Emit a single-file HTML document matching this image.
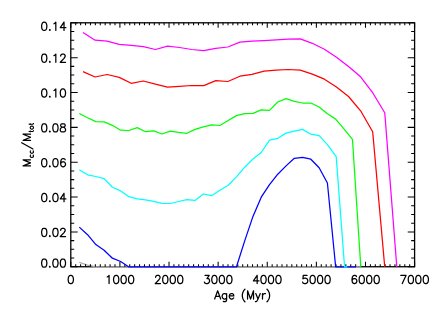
<!DOCTYPE html>
<html><head><meta charset="utf-8"><title>Mcc/Mtot vs Age</title>
<style>
html,body{margin:0;padding:0;background:#fff;font-family:"Liberation Sans",sans-serif;}
svg{display:block}
</style></head>
<body>
<svg width="436" height="312" viewBox="0 0 436 312">
<g fill="none" stroke="#000" stroke-linecap="butt" stroke-linejoin="miter">
<rect x="70.80" y="22.80" width="343.80" height="243.95" stroke-width="1.30"/>
<polyline stroke="#b0b0b0" stroke-width="1.35" stroke-linejoin="round" points="79.30,262.40 87.50,265.20 96.50,266.90 360.30,266.90"/>
<path d="M70.80 266.75 V261.87 M70.80 22.80 V27.68 M75.71 266.75 V264.31 M75.71 22.80 V25.24 M80.62 266.75 V264.31 M80.62 22.80 V25.24 M85.53 266.75 V264.31 M85.53 22.80 V25.24 M90.45 266.75 V264.31 M90.45 22.80 V25.24 M95.36 266.75 V264.31 M95.36 22.80 V25.24 M100.27 266.75 V264.31 M100.27 22.80 V25.24 M105.18 266.75 V264.31 M105.18 22.80 V25.24 M110.09 266.75 V264.31 M110.09 22.80 V25.24 M115.00 266.75 V264.31 M115.00 22.80 V25.24 M119.91 266.75 V261.87 M119.91 22.80 V27.68 M124.83 266.75 V264.31 M124.83 22.80 V25.24 M129.74 266.75 V264.31 M129.74 22.80 V25.24 M134.65 266.75 V264.31 M134.65 22.80 V25.24 M139.56 266.75 V264.31 M139.56 22.80 V25.24 M144.47 266.75 V264.31 M144.47 22.80 V25.24 M149.38 266.75 V264.31 M149.38 22.80 V25.24 M154.29 266.75 V264.31 M154.29 22.80 V25.24 M159.21 266.75 V264.31 M159.21 22.80 V25.24 M164.12 266.75 V264.31 M164.12 22.80 V25.24 M169.03 266.75 V261.87 M169.03 22.80 V27.68 M173.94 266.75 V264.31 M173.94 22.80 V25.24 M178.85 266.75 V264.31 M178.85 22.80 V25.24 M183.76 266.75 V264.31 M183.76 22.80 V25.24 M188.67 266.75 V264.31 M188.67 22.80 V25.24 M193.59 266.75 V264.31 M193.59 22.80 V25.24 M198.50 266.75 V264.31 M198.50 22.80 V25.24 M203.41 266.75 V264.31 M203.41 22.80 V25.24 M208.32 266.75 V264.31 M208.32 22.80 V25.24 M213.23 266.75 V264.31 M213.23 22.80 V25.24 M218.14 266.75 V261.87 M218.14 22.80 V27.68 M223.05 266.75 V264.31 M223.05 22.80 V25.24 M227.97 266.75 V264.31 M227.97 22.80 V25.24 M232.88 266.75 V264.31 M232.88 22.80 V25.24 M237.79 266.75 V264.31 M237.79 22.80 V25.24 M242.70 266.75 V264.31 M242.70 22.80 V25.24 M247.61 266.75 V264.31 M247.61 22.80 V25.24 M252.52 266.75 V264.31 M252.52 22.80 V25.24 M257.43 266.75 V264.31 M257.43 22.80 V25.24 M262.35 266.75 V264.31 M262.35 22.80 V25.24 M267.26 266.75 V261.87 M267.26 22.80 V27.68 M272.17 266.75 V264.31 M272.17 22.80 V25.24 M277.08 266.75 V264.31 M277.08 22.80 V25.24 M281.99 266.75 V264.31 M281.99 22.80 V25.24 M286.90 266.75 V264.31 M286.90 22.80 V25.24 M291.81 266.75 V264.31 M291.81 22.80 V25.24 M296.73 266.75 V264.31 M296.73 22.80 V25.24 M301.64 266.75 V264.31 M301.64 22.80 V25.24 M306.55 266.75 V264.31 M306.55 22.80 V25.24 M311.46 266.75 V264.31 M311.46 22.80 V25.24 M316.37 266.75 V261.87 M316.37 22.80 V27.68 M321.28 266.75 V264.31 M321.28 22.80 V25.24 M326.19 266.75 V264.31 M326.19 22.80 V25.24 M331.11 266.75 V264.31 M331.11 22.80 V25.24 M336.02 266.75 V264.31 M336.02 22.80 V25.24 M340.93 266.75 V264.31 M340.93 22.80 V25.24 M345.84 266.75 V264.31 M345.84 22.80 V25.24 M350.75 266.75 V264.31 M350.75 22.80 V25.24 M355.66 266.75 V264.31 M355.66 22.80 V25.24 M360.57 266.75 V264.31 M360.57 22.80 V25.24 M365.49 266.75 V261.87 M365.49 22.80 V27.68 M370.40 266.75 V264.31 M370.40 22.80 V25.24 M375.31 266.75 V264.31 M375.31 22.80 V25.24 M380.22 266.75 V264.31 M380.22 22.80 V25.24 M385.13 266.75 V264.31 M385.13 22.80 V25.24 M390.04 266.75 V264.31 M390.04 22.80 V25.24 M394.95 266.75 V264.31 M394.95 22.80 V25.24 M399.87 266.75 V264.31 M399.87 22.80 V25.24 M404.78 266.75 V264.31 M404.78 22.80 V25.24 M409.69 266.75 V264.31 M409.69 22.80 V25.24 M414.60 266.75 V261.87 M414.60 22.80 V27.68 M70.80 266.75 H77.68 M414.60 266.75 H407.72 M70.80 258.04 H74.24 M414.60 258.04 H411.16 M70.80 249.32 H74.24 M414.60 249.32 H411.16 M70.80 240.61 H74.24 M414.60 240.61 H411.16 M70.80 231.90 H77.68 M414.60 231.90 H407.72 M70.80 223.19 H74.24 M414.60 223.19 H411.16 M70.80 214.48 H74.24 M414.60 214.48 H411.16 M70.80 205.76 H74.24 M414.60 205.76 H411.16 M70.80 197.05 H77.68 M414.60 197.05 H407.72 M70.80 188.34 H74.24 M414.60 188.34 H411.16 M70.80 179.62 H74.24 M414.60 179.62 H411.16 M70.80 170.91 H74.24 M414.60 170.91 H411.16 M70.80 162.20 H77.68 M414.60 162.20 H407.72 M70.80 153.49 H74.24 M414.60 153.49 H411.16 M70.80 144.78 H74.24 M414.60 144.78 H411.16 M70.80 136.06 H74.24 M414.60 136.06 H411.16 M70.80 127.35 H77.68 M414.60 127.35 H407.72 M70.80 118.64 H74.24 M414.60 118.64 H411.16 M70.80 109.93 H74.24 M414.60 109.93 H411.16 M70.80 101.21 H74.24 M414.60 101.21 H411.16 M70.80 92.50 H77.68 M414.60 92.50 H407.72 M70.80 83.79 H74.24 M414.60 83.79 H411.16 M70.80 75.08 H74.24 M414.60 75.08 H411.16 M70.80 66.36 H74.24 M414.60 66.36 H411.16 M70.80 57.65 H77.68 M414.60 57.65 H407.72 M70.80 48.94 H74.24 M414.60 48.94 H411.16 M70.80 40.23 H74.24 M414.60 40.23 H411.16 M70.80 31.51 H74.24 M414.60 31.51 H411.16 M70.80 22.80 H77.68 M414.60 22.80 H407.72" stroke-width="1.05"/>
</g>
<polyline fill="none" stroke="#0000ff" stroke-width="1.25" stroke-linejoin="round" stroke-linecap="butt" points="79.30,227.10 87.57,234.70 95.84,244.60 104.11,250.20 112.38,258.20 120.65,261.50 128.92,266.95 236.40,266.95 244.70,240.90 252.97,216.40 261.24,197.20 269.51,184.60 277.78,174.20 286.05,165.90 294.32,158.30 302.59,157.40 310.86,159.20 319.13,167.80 327.40,183.00 335.67,266.95 356.00,266.95"/>
<polyline fill="none" stroke="#00ffff" stroke-width="1.25" stroke-linejoin="round" stroke-linecap="butt" points="79.30,169.70 87.57,174.80 95.84,176.50 104.11,178.60 112.38,187.20 120.65,190.90 128.92,196.70 137.19,198.80 145.46,199.80 153.73,201.30 162.00,203.30 170.27,203.50 178.54,201.50 186.81,199.60 195.08,200.40 203.35,194.00 211.62,195.70 219.89,190.30 228.16,185.20 236.43,176.90 244.70,167.20 252.97,159.00 261.24,152.50 269.51,140.20 277.78,138.30 286.05,133.10 294.32,131.10 302.59,129.40 310.86,134.20 319.13,135.60 327.40,144.60 336.20,156.60 344.60,266.95 347.40,266.95"/>
<polyline fill="none" stroke="#00ff00" stroke-width="1.25" stroke-linejoin="round" stroke-linecap="butt" points="79.30,113.50 87.57,117.70 95.84,121.60 104.11,121.80 112.38,125.30 120.65,130.20 128.92,130.50 137.19,127.60 145.46,131.70 153.73,130.90 162.00,134.00 170.27,131.10 178.54,132.30 186.81,133.30 195.08,129.40 203.35,126.90 211.62,124.90 219.89,125.50 228.16,120.50 236.43,115.60 244.70,113.70 252.97,113.30 261.24,109.80 269.51,110.40 277.78,102.00 286.05,98.70 294.32,101.30 302.59,103.00 310.86,103.00 319.13,107.00 327.40,113.80 335.67,119.10 343.94,128.80 352.45,139.30 360.80,266.95"/>
<polyline fill="none" stroke="#ff0000" stroke-width="1.25" stroke-linejoin="round" stroke-linecap="butt" points="83.00,71.60 95.07,77.00 107.14,74.50 119.21,77.40 131.28,83.30 143.35,81.00 155.42,84.20 167.49,87.10 179.56,86.40 191.63,85.50 203.70,85.60 215.77,80.70 227.84,81.50 239.91,76.20 251.98,74.40 264.05,71.20 276.12,70.20 288.19,69.50 300.26,70.20 312.33,74.10 324.40,79.20 336.47,87.10 348.54,96.50 360.61,110.80 372.68,131.80 384.75,266.95"/>
<polyline fill="none" stroke="#ff00ff" stroke-width="1.25" stroke-linejoin="round" stroke-linecap="butt" points="83.00,32.40 95.07,40.20 107.14,41.10 119.21,44.40 131.28,45.40 143.35,46.60 155.42,49.50 167.49,46.20 179.56,47.50 191.63,49.50 203.70,50.60 215.77,48.30 227.84,47.00 239.91,42.10 251.98,41.20 264.05,40.60 276.12,39.80 288.19,39.20 300.26,38.80 312.33,43.30 324.40,49.30 336.47,57.20 348.54,66.50 360.61,76.80 372.68,92.70 384.75,112.80 396.82,266.95"/>
<path d="M30.93 154.75 L30.47 155.22 L30.24 155.69 L30.24 156.40 L30.47 156.87 L30.93 157.34 L31.62 157.57 L32.08 157.57 L32.76 157.34 L33.22 156.87 L33.45 156.40 L33.45 155.69 L33.22 155.22 L32.76 154.75 M30.93 150.51 L30.47 150.98 L30.24 151.45 L30.24 152.15 L30.47 152.63 L30.93 153.10 L31.62 153.33 L32.08 153.33 L32.76 153.10 L33.22 152.63 L33.45 152.15 L33.45 151.45 L33.22 150.98 L32.76 150.51 M28.64 131.52 L32.53 131.52 L33.22 131.28 L33.45 130.81 L33.45 130.34 M30.24 132.23 L30.24 130.58 M30.24 127.99 L30.47 128.46 L30.93 128.93 L31.62 129.16 L32.08 129.16 L32.76 128.93 L33.22 128.46 L33.45 127.99 L33.45 127.28 L33.22 126.81 L32.76 126.34 L32.08 126.10 L31.62 126.10 L30.93 126.34 L30.47 126.81 L30.24 127.28 L30.24 127.99 M28.64 124.22 L32.53 124.22 L33.22 123.98 L33.45 123.51 L33.45 123.04 M30.24 124.92 L30.24 123.27" fill="none" stroke="#000" stroke-width="1.10" stroke-linecap="butt" stroke-linejoin="round"/>
<path d="M70.43 275.41 L69.31 275.80 L68.56 276.97 L68.18 278.92 L68.18 280.09 L68.56 282.04 L69.31 283.21 L70.43 283.60 L71.17 283.60 L72.29 283.21 L73.04 282.04 L73.42 280.09 L73.42 278.92 L73.04 276.97 L72.29 275.80 L71.17 275.41 L70.43 275.41 M107.21 276.97 L107.96 276.58 L109.08 275.41 L109.08 283.60 M115.80 275.41 L114.68 275.80 L113.94 276.97 L113.56 278.92 L113.56 280.09 L113.94 282.04 L114.68 283.21 L115.80 283.60 L116.55 283.60 L117.67 283.21 L118.42 282.04 L118.79 280.09 L118.79 278.92 L118.42 276.97 L117.67 275.80 L116.55 275.41 L115.80 275.41 M123.28 275.41 L122.16 275.80 L121.41 276.97 L121.04 278.92 L121.04 280.09 L121.41 282.04 L122.16 283.21 L123.28 283.60 L124.02 283.60 L125.14 283.21 L125.89 282.04 L126.27 280.09 L126.27 278.92 L125.89 276.97 L125.14 275.80 L124.02 275.41 L123.28 275.41 M130.75 275.41 L129.63 275.80 L128.88 276.97 L128.51 278.92 L128.51 280.09 L128.88 282.04 L129.63 283.21 L130.75 283.60 L131.50 283.60 L132.62 283.21 L133.36 282.04 L133.74 280.09 L133.74 278.92 L133.36 276.97 L132.62 275.80 L131.50 275.41 L130.75 275.41 M155.58 277.36 L155.58 276.97 L155.95 276.19 L156.33 275.80 L157.07 275.41 L158.57 275.41 L159.31 275.80 L159.69 276.19 L160.06 276.97 L160.06 277.75 L159.69 278.53 L158.94 279.70 L155.21 283.60 L160.44 283.60 M164.92 275.41 L163.80 275.80 L163.05 276.97 L162.68 278.92 L162.68 280.09 L163.05 282.04 L163.80 283.21 L164.92 283.60 L165.67 283.60 L166.79 283.21 L167.53 282.04 L167.91 280.09 L167.91 278.92 L167.53 276.97 L166.79 275.80 L165.67 275.41 L164.92 275.41 M172.39 275.41 L171.27 275.80 L170.52 276.97 L170.15 278.92 L170.15 280.09 L170.52 282.04 L171.27 283.21 L172.39 283.60 L173.14 283.60 L174.26 283.21 L175.01 282.04 L175.38 280.09 L175.38 278.92 L175.01 276.97 L174.26 275.80 L173.14 275.41 L172.39 275.41 M179.86 275.41 L178.74 275.80 L177.99 276.97 L177.62 278.92 L177.62 280.09 L177.99 282.04 L178.74 283.21 L179.86 283.60 L180.61 283.60 L181.73 283.21 L182.48 282.04 L182.85 280.09 L182.85 278.92 L182.48 276.97 L181.73 275.80 L180.61 275.41 L179.86 275.41 M205.07 275.41 L209.18 275.41 L206.93 278.53 L208.06 278.53 L208.80 278.92 L209.18 279.31 L209.55 280.48 L209.55 281.26 L209.18 282.43 L208.43 283.21 L207.31 283.60 L206.19 283.60 L205.07 283.21 L204.69 282.82 L204.32 282.04 M214.03 275.41 L212.91 275.80 L212.17 276.97 L211.79 278.92 L211.79 280.09 L212.17 282.04 L212.91 283.21 L214.03 283.60 L214.78 283.60 L215.90 283.21 L216.65 282.04 L217.02 280.09 L217.02 278.92 L216.65 276.97 L215.90 275.80 L214.78 275.41 L214.03 275.41 M221.51 275.41 L220.38 275.80 L219.64 276.97 L219.26 278.92 L219.26 280.09 L219.64 282.04 L220.38 283.21 L221.51 283.60 L222.25 283.60 L223.37 283.21 L224.12 282.04 L224.49 280.09 L224.49 278.92 L224.12 276.97 L223.37 275.80 L222.25 275.41 L221.51 275.41 M228.98 275.41 L227.86 275.80 L227.11 276.97 L226.74 278.92 L226.74 280.09 L227.11 282.04 L227.86 283.21 L228.98 283.60 L229.72 283.60 L230.85 283.21 L231.59 282.04 L231.97 280.09 L231.97 278.92 L231.59 276.97 L230.85 275.80 L229.72 275.41 L228.98 275.41 M257.17 275.41 L253.43 280.87 L259.04 280.87 M257.17 275.41 L257.17 283.60 M263.15 275.41 L262.03 275.80 L261.28 276.97 L260.91 278.92 L260.91 280.09 L261.28 282.04 L262.03 283.21 L263.15 283.60 L263.89 283.60 L265.02 283.21 L265.76 282.04 L266.14 280.09 L266.14 278.92 L265.76 276.97 L265.02 275.80 L263.89 275.41 L263.15 275.41 M270.62 275.41 L269.50 275.80 L268.75 276.97 L268.38 278.92 L268.38 280.09 L268.75 282.04 L269.50 283.21 L270.62 283.60 L271.37 283.60 L272.49 283.21 L273.23 282.04 L273.61 280.09 L273.61 278.92 L273.23 276.97 L272.49 275.80 L271.37 275.41 L270.62 275.41 M278.09 275.41 L276.97 275.80 L276.22 276.97 L275.85 278.92 L275.85 280.09 L276.22 282.04 L276.97 283.21 L278.09 283.60 L278.84 283.60 L279.96 283.21 L280.71 282.04 L281.08 280.09 L281.08 278.92 L280.71 276.97 L279.96 275.80 L278.84 275.41 L278.09 275.41 M307.03 275.41 L303.30 275.41 L302.92 278.92 L303.30 278.53 L304.42 278.14 L305.54 278.14 L306.66 278.53 L307.41 279.31 L307.78 280.48 L307.78 281.26 L307.41 282.43 L306.66 283.21 L305.54 283.60 L304.42 283.60 L303.30 283.21 L302.92 282.82 L302.55 282.04 M312.26 275.41 L311.14 275.80 L310.39 276.97 L310.02 278.92 L310.02 280.09 L310.39 282.04 L311.14 283.21 L312.26 283.60 L313.01 283.60 L314.13 283.21 L314.88 282.04 L315.25 280.09 L315.25 278.92 L314.88 276.97 L314.13 275.80 L313.01 275.41 L312.26 275.41 M319.73 275.41 L318.61 275.80 L317.87 276.97 L317.49 278.92 L317.49 280.09 L317.87 282.04 L318.61 283.21 L319.73 283.60 L320.48 283.60 L321.60 283.21 L322.35 282.04 L322.72 280.09 L322.72 278.92 L322.35 276.97 L321.60 275.80 L320.48 275.41 L319.73 275.41 M327.21 275.41 L326.09 275.80 L325.34 276.97 L324.96 278.92 L324.96 280.09 L325.34 282.04 L326.09 283.21 L327.21 283.60 L327.95 283.60 L329.07 283.21 L329.82 282.04 L330.19 280.09 L330.19 278.92 L329.82 276.97 L329.07 275.80 L327.95 275.41 L327.21 275.41 M356.52 276.58 L356.15 275.80 L355.02 275.41 L354.28 275.41 L353.16 275.80 L352.41 276.97 L352.04 278.92 L352.04 280.87 L352.41 282.43 L353.16 283.21 L354.28 283.60 L354.65 283.60 L355.77 283.21 L356.52 282.43 L356.89 281.26 L356.89 280.87 L356.52 279.70 L355.77 278.92 L354.65 278.53 L354.28 278.53 L353.16 278.92 L352.41 279.70 L352.04 280.87 M361.38 275.41 L360.26 275.80 L359.51 276.97 L359.13 278.92 L359.13 280.09 L359.51 282.04 L360.26 283.21 L361.38 283.60 L362.12 283.60 L363.24 283.21 L363.99 282.04 L364.36 280.09 L364.36 278.92 L363.99 276.97 L363.24 275.80 L362.12 275.41 L361.38 275.41 M368.85 275.41 L367.73 275.80 L366.98 276.97 L366.61 278.92 L366.61 280.09 L366.98 282.04 L367.73 283.21 L368.85 283.60 L369.60 283.60 L370.72 283.21 L371.46 282.04 L371.84 280.09 L371.84 278.92 L371.46 276.97 L370.72 275.80 L369.60 275.41 L368.85 275.41 M376.32 275.41 L375.20 275.80 L374.45 276.97 L374.08 278.92 L374.08 280.09 L374.45 282.04 L375.20 283.21 L376.32 283.60 L377.07 283.60 L378.19 283.21 L378.94 282.04 L379.31 280.09 L379.31 278.92 L378.94 276.97 L378.19 275.80 L377.07 275.41 L376.32 275.41 M406.01 275.41 L402.27 283.60 M400.78 275.41 L406.01 275.41 M410.49 275.41 L409.37 275.80 L408.62 276.97 L408.25 278.92 L408.25 280.09 L408.62 282.04 L409.37 283.21 L410.49 283.60 L411.24 283.60 L412.36 283.21 L413.11 282.04 L413.48 280.09 L413.48 278.92 L413.11 276.97 L412.36 275.80 L411.24 275.41 L410.49 275.41 M417.96 275.41 L416.84 275.80 L416.09 276.97 L415.72 278.92 L415.72 280.09 L416.09 282.04 L416.84 283.21 L417.96 283.60 L418.71 283.60 L419.83 283.21 L420.58 282.04 L420.95 280.09 L420.95 278.92 L420.58 276.97 L419.83 275.80 L418.71 275.41 L417.96 275.41 M425.43 275.41 L424.31 275.80 L423.57 276.97 L423.19 278.92 L423.19 280.09 L423.57 282.04 L424.31 283.21 L425.43 283.60 L426.18 283.60 L427.30 283.21 L428.05 282.04 L428.42 280.09 L428.42 278.92 L428.05 276.97 L427.30 275.80 L426.18 275.41 L425.43 275.41 M43.86 259.01 L42.74 259.40 L41.99 260.57 L41.62 262.52 L41.62 263.69 L41.99 265.64 L42.74 266.81 L43.86 267.20 L44.61 267.20 L45.73 266.81 L46.48 265.64 L46.85 263.69 L46.85 262.52 L46.48 260.57 L45.73 259.40 L44.61 259.01 L43.86 259.01 M49.84 266.42 L49.46 266.81 L49.84 267.20 L50.21 266.81 L49.84 266.42 M55.07 259.01 L53.95 259.40 L53.20 260.57 L52.83 262.52 L52.83 263.69 L53.20 265.64 L53.95 266.81 L55.07 267.20 L55.82 267.20 L56.94 266.81 L57.68 265.64 L58.06 263.69 L58.06 262.52 L57.68 260.57 L56.94 259.40 L55.82 259.01 L55.07 259.01 M62.54 259.01 L61.42 259.40 L60.67 260.57 L60.30 262.52 L60.30 263.69 L60.67 265.64 L61.42 266.81 L62.54 267.20 L63.29 267.20 L64.41 266.81 L65.16 265.64 L65.53 263.69 L65.53 262.52 L65.16 260.57 L64.41 259.40 L63.29 259.01 L62.54 259.01 M43.86 228.31 L42.74 228.69 L41.99 229.87 L41.62 231.81 L41.62 232.99 L41.99 234.94 L42.74 236.11 L43.86 236.50 L44.61 236.50 L45.73 236.11 L46.48 234.94 L46.85 232.99 L46.85 231.81 L46.48 229.87 L45.73 228.69 L44.61 228.31 L43.86 228.31 M49.84 235.72 L49.46 236.11 L49.84 236.50 L50.21 236.11 L49.84 235.72 M55.07 228.31 L53.95 228.69 L53.20 229.87 L52.83 231.81 L52.83 232.99 L53.20 234.94 L53.95 236.11 L55.07 236.50 L55.82 236.50 L56.94 236.11 L57.68 234.94 L58.06 232.99 L58.06 231.81 L57.68 229.87 L56.94 228.69 L55.82 228.31 L55.07 228.31 M60.67 230.25 L60.67 229.87 L61.05 229.09 L61.42 228.69 L62.17 228.31 L63.66 228.31 L64.41 228.69 L64.78 229.09 L65.16 229.87 L65.16 230.65 L64.78 231.43 L64.03 232.59 L60.30 236.50 L65.53 236.50 M43.86 193.46 L42.74 193.84 L41.99 195.02 L41.62 196.97 L41.62 198.14 L41.99 200.09 L42.74 201.26 L43.86 201.65 L44.61 201.65 L45.73 201.26 L46.48 200.09 L46.85 198.14 L46.85 196.97 L46.48 195.02 L45.73 193.84 L44.61 193.46 L43.86 193.46 M49.84 200.87 L49.46 201.26 L49.84 201.65 L50.21 201.26 L49.84 200.87 M55.07 193.46 L53.95 193.84 L53.20 195.02 L52.83 196.97 L52.83 198.14 L53.20 200.09 L53.95 201.26 L55.07 201.65 L55.82 201.65 L56.94 201.26 L57.68 200.09 L58.06 198.14 L58.06 196.97 L57.68 195.02 L56.94 193.84 L55.82 193.46 L55.07 193.46 M64.03 193.46 L60.30 198.92 L65.90 198.92 M64.03 193.46 L64.03 201.65 M43.86 158.61 L42.74 159.00 L41.99 160.17 L41.62 162.12 L41.62 163.29 L41.99 165.24 L42.74 166.41 L43.86 166.80 L44.61 166.80 L45.73 166.41 L46.48 165.24 L46.85 163.29 L46.85 162.12 L46.48 160.17 L45.73 159.00 L44.61 158.61 L43.86 158.61 M49.84 166.02 L49.46 166.41 L49.84 166.80 L50.21 166.41 L49.84 166.02 M55.07 158.61 L53.95 159.00 L53.20 160.17 L52.83 162.12 L52.83 163.29 L53.20 165.24 L53.95 166.41 L55.07 166.80 L55.82 166.80 L56.94 166.41 L57.68 165.24 L58.06 163.29 L58.06 162.12 L57.68 160.17 L56.94 159.00 L55.82 158.61 L55.07 158.61 M65.16 159.78 L64.78 159.00 L63.66 158.61 L62.91 158.61 L61.79 159.00 L61.05 160.17 L60.67 162.12 L60.67 164.07 L61.05 165.63 L61.79 166.41 L62.91 166.80 L63.29 166.80 L64.41 166.41 L65.16 165.63 L65.53 164.46 L65.53 164.07 L65.16 162.90 L64.41 162.12 L63.29 161.73 L62.91 161.73 L61.79 162.12 L61.05 162.90 L60.67 164.07 M43.86 123.76 L42.74 124.15 L41.99 125.32 L41.62 127.27 L41.62 128.44 L41.99 130.39 L42.74 131.56 L43.86 131.95 L44.61 131.95 L45.73 131.56 L46.48 130.39 L46.85 128.44 L46.85 127.27 L46.48 125.32 L45.73 124.15 L44.61 123.76 L43.86 123.76 M49.84 131.17 L49.46 131.56 L49.84 131.95 L50.21 131.56 L49.84 131.17 M55.07 123.76 L53.95 124.15 L53.20 125.32 L52.83 127.27 L52.83 128.44 L53.20 130.39 L53.95 131.56 L55.07 131.95 L55.82 131.95 L56.94 131.56 L57.68 130.39 L58.06 128.44 L58.06 127.27 L57.68 125.32 L56.94 124.15 L55.82 123.76 L55.07 123.76 M62.17 123.76 L61.05 124.15 L60.67 124.93 L60.67 125.71 L61.05 126.49 L61.79 126.88 L63.29 127.27 L64.41 127.66 L65.16 128.44 L65.53 129.22 L65.53 130.39 L65.16 131.17 L64.78 131.56 L63.66 131.95 L62.17 131.95 L61.05 131.56 L60.67 131.17 L60.30 130.39 L60.30 129.22 L60.67 128.44 L61.42 127.66 L62.54 127.27 L64.03 126.88 L64.78 126.49 L65.16 125.71 L65.16 124.93 L64.78 124.15 L63.66 123.76 L62.17 123.76 M43.86 88.91 L42.74 89.30 L41.99 90.47 L41.62 92.42 L41.62 93.59 L41.99 95.54 L42.74 96.71 L43.86 97.10 L44.61 97.10 L45.73 96.71 L46.48 95.54 L46.85 93.59 L46.85 92.42 L46.48 90.47 L45.73 89.30 L44.61 88.91 L43.86 88.91 M49.84 96.32 L49.46 96.71 L49.84 97.10 L50.21 96.71 L49.84 96.32 M53.95 90.47 L54.69 90.08 L55.82 88.91 L55.82 97.10 M62.54 88.91 L61.42 89.30 L60.67 90.47 L60.30 92.42 L60.30 93.59 L60.67 95.54 L61.42 96.71 L62.54 97.10 L63.29 97.10 L64.41 96.71 L65.16 95.54 L65.53 93.59 L65.53 92.42 L65.16 90.47 L64.41 89.30 L63.29 88.91 L62.54 88.91 M43.86 54.06 L42.74 54.45 L41.99 55.62 L41.62 57.57 L41.62 58.74 L41.99 60.69 L42.74 61.86 L43.86 62.25 L44.61 62.25 L45.73 61.86 L46.48 60.69 L46.85 58.74 L46.85 57.57 L46.48 55.62 L45.73 54.45 L44.61 54.06 L43.86 54.06 M49.84 61.47 L49.46 61.86 L49.84 62.25 L50.21 61.86 L49.84 61.47 M53.95 55.62 L54.69 55.23 L55.82 54.06 L55.82 62.25 M60.67 56.01 L60.67 55.62 L61.05 54.84 L61.42 54.45 L62.17 54.06 L63.66 54.06 L64.41 54.45 L64.78 54.84 L65.16 55.62 L65.16 56.40 L64.78 57.18 L64.03 58.35 L60.30 62.25 L65.53 62.25 M43.86 22.20 L42.74 22.59 L41.99 23.76 L41.62 25.71 L41.62 26.88 L41.99 28.83 L42.74 30.00 L43.86 30.39 L44.61 30.39 L45.73 30.00 L46.48 28.83 L46.85 26.88 L46.85 25.71 L46.48 23.76 L45.73 22.59 L44.61 22.20 L43.86 22.20 M49.84 29.61 L49.46 30.00 L49.84 30.39 L50.21 30.00 L49.84 29.61 M53.95 23.76 L54.69 23.37 L55.82 22.20 L55.82 30.39 M64.03 22.20 L60.30 27.66 L65.90 27.66 M64.03 22.20 L64.03 30.39 M217.67 290.81 L214.68 299.00 M217.67 290.81 L220.66 299.00 M215.80 296.27 L219.54 296.27 M226.64 293.54 L226.64 299.78 L226.26 300.95 L225.89 301.34 L225.14 301.73 L224.02 301.73 L223.27 301.34 M226.64 294.71 L225.89 293.93 L225.14 293.54 L224.02 293.54 L223.27 293.93 L222.53 294.71 L222.15 295.88 L222.15 296.66 L222.53 297.83 L223.27 298.61 L224.02 299.00 L225.14 299.00 L225.89 298.61 L226.64 297.83 M229.25 295.88 L233.73 295.88 L233.73 295.10 L233.36 294.32 L232.99 293.93 L232.24 293.54 L231.12 293.54 L230.37 293.93 L229.62 294.71 L229.25 295.88 L229.25 296.66 L229.62 297.83 L230.37 298.61 L231.12 299.00 L232.24 299.00 L232.99 298.61 L233.73 297.83 M244.94 289.25 L244.19 290.03 L243.45 291.20 L242.70 292.76 L242.33 294.71 L242.33 296.27 L242.70 298.22 L243.45 299.78 L244.19 300.95 L244.94 301.73 M247.56 290.81 L247.56 299.00 M247.56 290.81 L250.55 299.00 M253.53 290.81 L250.55 299.00 M253.53 290.81 L253.53 299.00 M255.78 293.54 L258.02 299.00 M260.26 293.54 L258.02 299.00 L257.27 300.56 L256.52 301.34 L255.78 301.73 L255.40 301.73 M262.50 293.54 L262.50 299.00 M262.50 295.88 L262.87 294.71 L263.62 293.93 L264.37 293.54 L265.49 293.54 M266.98 289.25 L267.73 290.03 L268.48 291.20 L269.23 292.76 L269.60 294.71 L269.60 296.27 L269.23 298.22 L268.48 299.78 L267.73 300.95 L266.98 301.73 M23.11 165.88 L30.50 165.88 M23.11 165.88 L30.50 162.84 M23.11 159.80 L30.50 162.84 M23.11 159.80 L30.50 159.80 M32.96 149.04 L21.70 142.77 M23.11 140.30 L30.50 140.30 M23.11 140.30 L30.50 137.26 M23.11 134.22 L30.50 137.26 M23.11 134.22 L30.50 134.22" fill="none" stroke="#000" stroke-width="1.25" stroke-linecap="round" stroke-linejoin="round"/>
</svg>
</body></html>
